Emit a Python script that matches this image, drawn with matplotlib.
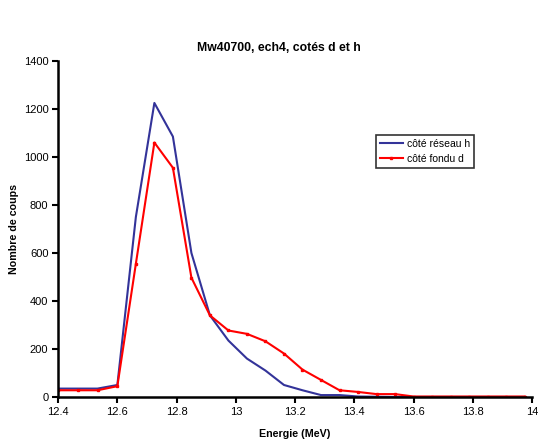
import matplotlib
matplotlib.use("Agg")
import matplotlib.pyplot as plt
from matplotlib.ticker import FuncFormatter

plt.rcParams['font.family'] = ['Liberation Sans', 'DejaVu Sans']

# energie (MeV)
energie = [12.4, 12.467, 12.533, 12.6, 12.6625, 12.725, 12.7875, 12.85, 12.9125,
           12.975, 13.0375, 13.1, 13.1625, 13.225, 13.2875, 13.35, 13.4125, 13.475,
           13.5375, 13.6, 13.6625, 13.725, 13.7875, 13.85, 13.9125, 13.975]

# cote reseau h
reseau_h = [35, 35, 35, 50, 750, 1225, 1085, 600, 340, 235, 160, 110, 50, 28,
            8, 8, 2, 1, 0, 0, 0, 0, 0, 0, 0, 0]

# cote fondu d
fondu_d = [28, 28, 28, 45, 555, 1060, 955, 497, 340, 277, 263, 232, 181, 114,
           71, 28, 21, 12, 12, 2, 2, 2, 2, 2, 2, 2]

fig = plt.figure(figsize=(5.38, 4.41), dpi=100)
ax = fig.add_axes([0.108, 0.0998, 0.881, 0.762])

ax.plot(energie, reseau_h, color='#333399', linewidth=1.5, label='côté réseau h')
ax.plot(energie, fondu_d, color='#FF0000', linewidth=1.5, marker='s', markersize=2,
        label='côté fondu d')

ax.set_xlim(12.4, 14)
ax.set_ylim(0, 1400)
ax.set_xticks([12.4, 12.6, 12.8, 13, 13.2, 13.4, 13.6, 13.8, 14])
ax.set_yticks(range(0, 1401, 200))
ax.xaxis.set_major_formatter(FuncFormatter(lambda v, p: '%g' % round(v, 2)))

for s in ['top', 'right']:
    ax.spines[s].set_visible(False)
for s in ['left', 'bottom']:
    ax.spines[s].set_linewidth(1.8)
ax.tick_params(direction='out', length=4, width=1.5, labelsize=8, pad=3)

ax.set_xlabel('Energie (MeV)', fontsize=7.7, fontweight='bold', labelpad=9)
ax.set_ylabel('Nombre de coups', fontsize=7.7, fontweight='bold', labelpad=3)
fig.suptitle('Mw40700, ech4, cotés d et h', fontsize=8.8, fontweight='bold', y=0.905, x=0.519)

leg = ax.legend(loc='upper left', bbox_to_anchor=(0.66, 0.795), fontsize=7.5,
                frameon=True, fancybox=False, handlelength=2.2, borderpad=0.35,
                labelspacing=0.5, handletextpad=0.4)
leg.get_frame().set_edgecolor('black')
leg.get_frame().set_linewidth(1.2)

fig.savefig('out.png', dpi=100)
